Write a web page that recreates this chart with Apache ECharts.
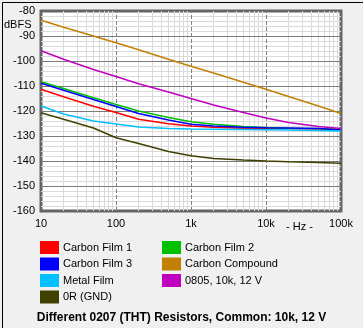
<!DOCTYPE html>
<html>
<head>
<meta charset="utf-8">
<script src="https://cdn.jsdelivr.net/npm/echarts@6/dist/echarts.min.js"></script>
<style>
  html, body { margin: 0; padding: 0; background: #f0f0f0; }
  #chart { width: 363px; height: 328px; }
</style>
</head>
<body>
<div id="chart"></div>
<script>
// Frequency points (Hz) shared by all curves
const freqs = [10, 20, 50, 100, 200, 500, 1000, 2000, 5000, 10000, 20000, 50000, 100000];

// Noise level per resistor type (dBFS)
const carbonFilm1    = [-111.3, -114.3, -118.1, -120.6, -123.3, -125.1, -126.0, -126.5, -126.9, -127.0, -127.0, -127.2, -127.5];
const carbonFilm2    = [-108.3, -111.0, -114.7, -117.4, -120.0, -122.6, -124.3, -125.3, -126.2, -126.6, -126.9, -127.0, -127.3];
const carbonFilm3    = [-108.9, -111.7, -115.4, -118.2, -121.0, -123.6, -125.3, -126.0, -126.5, -126.7, -126.8, -127.0, -127.6];
const carbonCompound = [-83.7, -86.5, -90.0, -92.7, -95.5, -99.3, -102.1, -104.8, -108.5, -111.3, -114.2, -118.0, -121.0];
const metalFilm      = [-118.0, -121.2, -124.0, -125.2, -126.4, -127.0, -127.2, -127.3, -127.4, -127.5, -127.6, -127.8, -128.0];
const smd0805        = [-95.9, -99.3, -103.4, -106.2, -109.1, -112.4, -115.0, -117.6, -120.6, -122.8, -124.6, -126.2, -127.0];
const zeroOhm        = [-120.7, -123.3, -126.8, -130.7, -133.0, -136.2, -137.9, -139.0, -139.6, -140.0, -140.3, -140.6, -140.9];

// Axis ticks and labels
const xMajorTicks = [10, 100, 1000, 10000, 100000];
const xTickLabels = ['10', '100', '1k', '10k', '100k'];
const yMin = -160, yMax = -80, yStep = 10, yMinorStep = 2;

const FONT = '"Liberation Sans", Arial, sans-serif';

const seriesDefs = [
  { name: 'Carbon Film 1',   color: '#ff0000', values: carbonFilm1 },
  { name: 'Carbon Film 2',   color: '#00c000', values: carbonFilm2 },
  { name: 'Carbon Film 3',   color: '#0000ff', values: carbonFilm3 },
  { name: 'Carbon Compound', color: '#c08000', values: carbonCompound },
  { name: 'Metal Film',      color: '#00c0ff', values: metalFilm },
  { name: '0805, 10k, 12 V', color: '#c000c0', values: smd0805 },
  { name: '0R (GND)',        color: '#404000', values: zeroOhm }
];

// Grid lines, drawn as mark lines so light minor lines sit under the darker major ones
const gridLines = [];
const minorStyle = { color: '#dadada', width: 1, type: 'solid' };
for (let v = yMin + yMinorStep; v < yMax; v += yMinorStep) {
  if (v % yStep !== 0) gridLines.push({ yAxis: v, lineStyle: minorStyle });
}
for (let d = 10; d < 100000; d *= 10) {
  for (let m = 2; m <= 9; m++) gridLines.push({ xAxis: d * m, lineStyle: minorStyle });
}
for (let v = yMin + yStep; v < yMax; v += yStep) {
  gridLines.push({ yAxis: v, lineStyle: { color: '#7a7a7a', width: 1, type: 'solid' } });
}
xMajorTicks.slice(1, -1).forEach(function (f) {
  gridLines.push({ xAxis: f, lineStyle: { color: '#808080', width: 1, type: [4, 2] } });
});

const series = [{
  type: 'line',
  name: 'grid',
  data: [],
  silent: true,
  z: 1,
  markLine: {
    z: 1,
    silent: true,
    animation: false,
    symbol: ['none', 'none'],
    label: { show: false },
    emphasis: { disabled: true },
    data: gridLines
  }
}];
seriesDefs.forEach(function (s) {
  series.push({
    type: 'line',
    name: s.name,
    z: 3,
    showSymbol: false,
    symbol: 'none',
    color: s.color,
    lineStyle: { color: s.color, width: 1.4 },
    itemStyle: { color: s.color },
    emphasis: { disabled: true },
    data: freqs.map(function (f, i) { return [f, s.values[i]]; })
  });
});

const legendCommon = {
  orient: 'vertical',
  icon: 'rect',
  itemWidth: 19,
  itemHeight: 13,
  itemGap: 3.5,
  padding: 0,
  selectedMode: false,
  textStyle: { fontFamily: FONT, fontSize: 11, color: '#000', padding: [0, 0, 0, -1] },
  top: 241
};

const chart = echarts.init(document.getElementById('chart'), null, { renderer: 'canvas' });
chart.setOption({
  animation: false,
  backgroundColor: '#f0f0f0',
  grid: {
    left: 41, right: 22, top: 11, bottom: 117,
    show: true,
    backgroundColor: '#ffffff',
    borderColor: '#646464',
    borderWidth: 3
  },
  xAxis: {
    type: 'log',
    logBase: 10,
    min: 10,
    max: 100000,
    interval: 1,
    axisLine: { show: false },
    axisTick: { show: false },
    splitLine: { show: false },
    axisLabel: {
      margin: 7,
      color: '#000',
      fontFamily: FONT,
      fontSize: 11,
      formatter: function (v) {
        const idx = xMajorTicks.indexOf(Math.round(v));
        return idx >= 0 ? xTickLabels[idx] : '';
      }
    }
  },
  yAxis: {
    type: 'value',
    min: yMin,
    max: yMax,
    interval: yStep,
    axisLine: { show: false },
    axisTick: { show: false },
    splitLine: { show: false },
    axisLabel: { margin: 6, color: '#000', fontFamily: FONT, fontSize: 11 }
  },
  legend: [
    Object.assign({ left: 40, data: ['Carbon Film 1', 'Carbon Film 3', 'Metal Film', '0R (GND)'] }, legendCommon),
    Object.assign({ left: 162, data: ['Carbon Film 2', 'Carbon Compound', '0805, 10k, 12 V'] }, legendCommon)
  ],
  title: {
    text: 'Different 0207 (THT) Resistors, Common: 10k, 12 V',
    left: 'center',
    top: 312,
    padding: 0,
    textStyle: { fontFamily: FONT, fontSize: 12, fontWeight: 'bold', color: '#000' }
  },
  graphic: [
    { type: 'text', left: 4, top: 19, style: { text: 'dBFS', font: '11px ' + FONT, fill: '#000' } },
    { type: 'text', left: 286, top: 221, style: { text: '- Hz -', font: '11px ' + FONT, fill: '#000' } },
    { type: 'rect', left: 0, top: 0, z: 10, silent: true,
      shape: { x: 0, y: 0, width: 362, height: 327 },
      style: { fill: 'none', stroke: '#000', lineWidth: 1 } }
  ],
  series: series
});
</script>
</body>
</html>
